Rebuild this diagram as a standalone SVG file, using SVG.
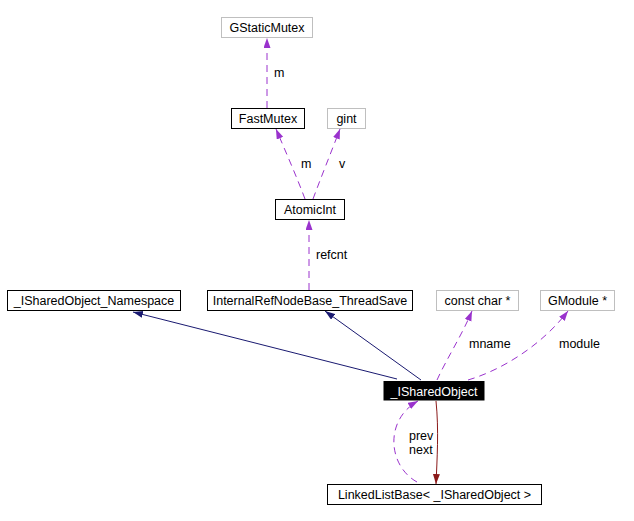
<svg xmlns="http://www.w3.org/2000/svg" width="634" height="521" viewBox="0 0 634 521">
<style>
text{font-family:"Liberation Sans",Arial,sans-serif;font-size:12.5px;fill:#000}
.n rect{fill:#fff;stroke:#000;stroke-width:1}
.g rect{fill:#fff;stroke:#bfbfbf;stroke-width:1}
.n text,.g text{text-anchor:middle}
.p{fill:none;stroke:#9a32cd;stroke-width:1;stroke-dasharray:7,5}
.b{fill:none;stroke:#191970;stroke-width:1}
.r{fill:none;stroke:#8b1a1a;stroke-width:1}
</style>
<defs>
<marker id="mp" markerWidth="11" markerHeight="8" refX="10" refY="3.5" orient="auto" markerUnits="userSpaceOnUse"><path d="M0,0 L10,3.5 L0,7 z" fill="#9a32cd"/></marker>
<marker id="mb" markerWidth="11" markerHeight="8" refX="10" refY="3.5" orient="auto" markerUnits="userSpaceOnUse"><path d="M0,0 L10,3.5 L0,7 z" fill="#191970"/></marker>
<marker id="mr" markerWidth="11" markerHeight="8" refX="10" refY="3.5" orient="auto" markerUnits="userSpaceOnUse"><path d="M0,0 L10,3.5 L0,7 z" fill="#8b1a1a"/></marker>
</defs>
<rect width="634" height="521" fill="#fff"/>
<g id="connectors">
<path class="p" d="M267,108 L267,38" marker-end="url(#mp)"/>
<text x="274" y="77">m</text>
<path class="p" d="M305,199 C298,180 285,150 276,129" marker-end="url(#mp)"/>
<text x="301" y="168">m</text>
<path class="p" d="M313,199 C320,180 332,150 340,129" marker-end="url(#mp)"/>
<text x="339" y="168">v</text>
<path class="p" d="M309,290 L309,220" marker-end="url(#mp)"/>
<text x="316" y="259">refcnt</text>
<path class="b" d="M397,379 L133,312" marker-end="url(#mb)"/>
<path class="b" d="M421,380 L325,311" marker-end="url(#mb)"/>
<path class="p" d="M437,380 C446,360 462,335 472,311" marker-end="url(#mp)"/>
<text x="469" y="348">mname</text>
<path class="p" d="M468,380 C502,370 542,345 568,311" marker-end="url(#mp)"/>
<text x="559" y="348">module</text>
<path class="r" d="M436,401 C439,430 437,460 436,484" marker-end="url(#mr)"/>
<path class="p" d="M417,482 C388,466 384,420 418,401" marker-end="url(#mp)"/>
<text x="409" y="440">prev</text>
<text x="409" y="454">next</text>
</g>
<g id="GStaticMutex" class="g"><rect x="221.5" y="17.5" width="91" height="20"/><text x="267" y="32">GStaticMutex</text></g>
<g id="FastMutex" class="n"><rect x="231.5" y="108.5" width="73" height="20"/><text x="268" y="123">FastMutex</text></g>
<g id="gint" class="g"><rect x="327.5" y="108.5" width="38" height="20"/><text x="346.5" y="123">gint</text></g>
<g id="AtomicInt" class="n"><rect x="275.5" y="199.5" width="69" height="20"/><text x="310" y="214">AtomicInt</text></g>
<g id="ISharedObject_Namespace" class="n"><rect x="7.5" y="290.5" width="173" height="20"/><text x="94" y="305">_ISharedObject_Namespace</text></g>
<g id="InternalRefNodeBase_ThreadSave" class="n"><rect x="207.5" y="290.5" width="205" height="20"/><text x="310" y="305">InternalRefNodeBase_ThreadSave</text></g>
<g id="const_char" class="g"><rect x="436.5" y="290.5" width="82" height="20"/><text x="477.5" y="305">const char *</text></g>
<g id="GModule" class="g"><rect x="540.5" y="290.5" width="74" height="20"/><text x="577.5" y="305">GModule *</text></g>
<g id="ISharedObject"><rect x="383.5" y="381" width="101" height="19.5" fill="#000"/><text x="434" y="396" style="fill:#fff;text-anchor:middle">_ISharedObject</text></g>
<g id="LinkedListBase" class="n"><rect x="327.5" y="484.5" width="214" height="20"/><text x="434.5" y="499">LinkedListBase&lt; _ISharedObject &gt;</text></g>
</svg>
